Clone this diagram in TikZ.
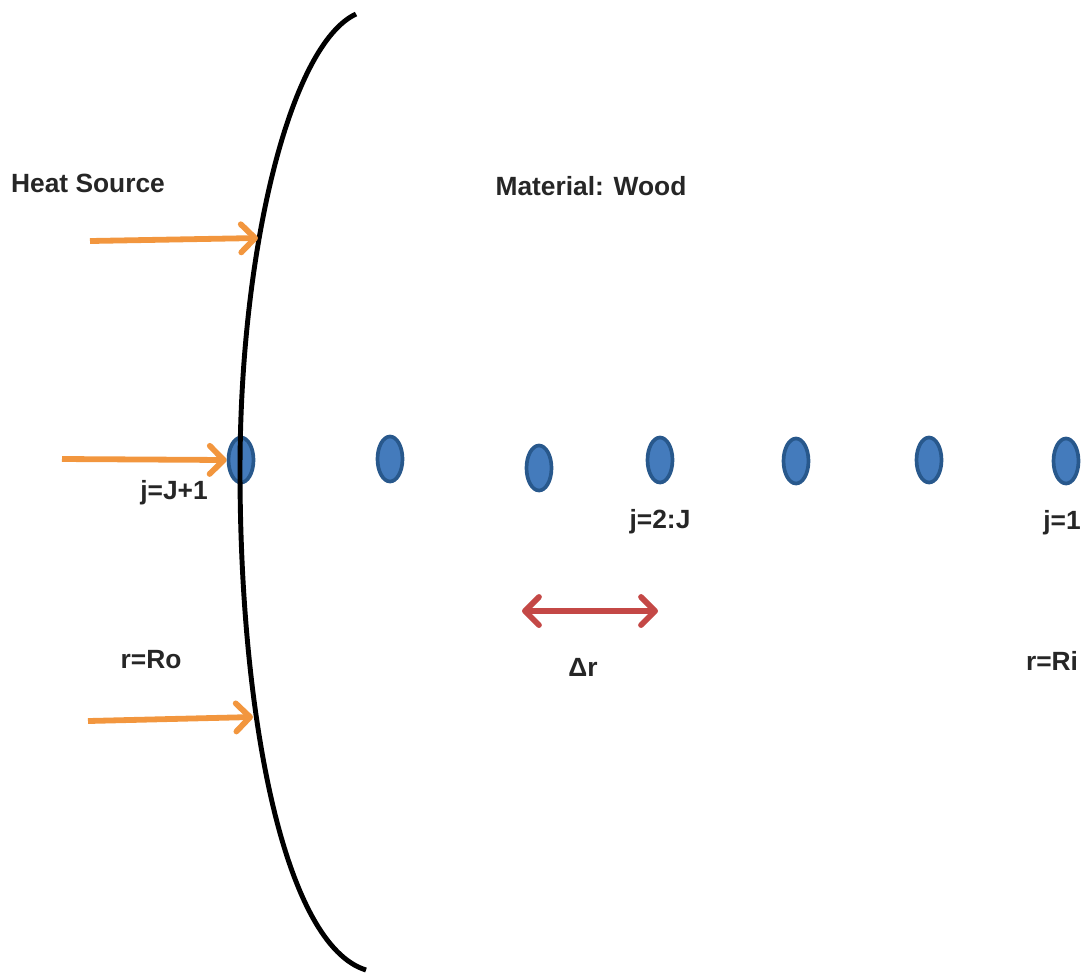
\documentclass[tikz,border=0pt]{standalone}
\usepackage{fontspec}
\setmainfont{Liberation Sans}
\usetikzlibrary{arrows.meta,shapes.geometric}

\definecolor{heatorange}{RGB}{242,150,62}
\definecolor{nodefill}{RGB}{68,123,188}
\definecolor{nodeedge}{RGB}{40,88,140}
\definecolor{steparrow}{RGB}{196,72,70}
\definecolor{labelgray}{RGB}{38,38,38}

\begin{document}
\begin{tikzpicture}[x=0.02cm, y=-0.02cm,
    lbl/.style={text=labelgray, font=\fontsize{15}{18}\selectfont\bfseries, inner sep=0pt},
    gridpt/.style={ellipse, draw=nodeedge, fill=nodefill, line width=2.1pt, minimum width=0.5cm, minimum height=0.9cm, inner sep=0pt},
    heat/.style={draw=heatorange, line width=3.3pt, -{Straight Barb[length=8pt,width=16pt,round]}},
    dr/.style={draw=steparrow, line width=3.3pt, {Straight Barb[length=8pt,width=16pt,round]}-{Straight Barb[length=8pt,width=16pt,round]}}]
         \useasboundingbox (0,0) rectangle (1084,975);
         % grid points, from j=J+1 at the surface to j=1 inside
         \node [gridpt] (P7) at (241,460) {};
         \node [gridpt] (P6) at (390,459) {};
         \node [gridpt] (P5) at (539,468) {};
         \node [gridpt] (P4) at (660,460) {};
         \node [gridpt] (P3) at (796,461) {};
         \node [gridpt] (P2) at (929,460) {};
         \node [gridpt] (P1) at (1066,461) {};
         % outer surface of the wood
         \draw [line width=2.8pt] (356,14) .. controls (290,45) and (240,250) .. (240,470)
               .. controls (240,720) and (285,945) .. (366,970);
         % labels
         \node [lbl] (HS) at (88,183) {Heat Source};
         \node [lbl] (MW) at (591,186) {Material: Wood};
         \node [lbl] (JO) at (174,493) {j=J+1};
         \node [lbl] (JM) at (660,522) {j=2:J};
         \node [lbl] (JI) at (1062,523) {j=1};
         \node [lbl] (RO) at (151,660) {r=Ro};
         \node [lbl] (DR) at (583,667) {Δr};
         \node [lbl] (RI) at (1052,661) {r=Ri};
         % heat flux onto the surface
         \coordinate (A1) at (90,241);
         \coordinate (B1) at (258,238);
         \coordinate (A2) at (62,459);
         \coordinate (A3) at (88,721);
         \coordinate (B3) at (253,717);
         \draw [heat] (A1) -- (B1);
         \draw [heat] (A2) -- (P7.west);
         \draw [heat] (A3) -- (B3);
         % spacing between grid points
         \coordinate (DL) at (522,611);
         \coordinate (DRt) at (658,611);
         \draw [dr] (DL) -- (DRt);
 \end{tikzpicture}
\end{document}
